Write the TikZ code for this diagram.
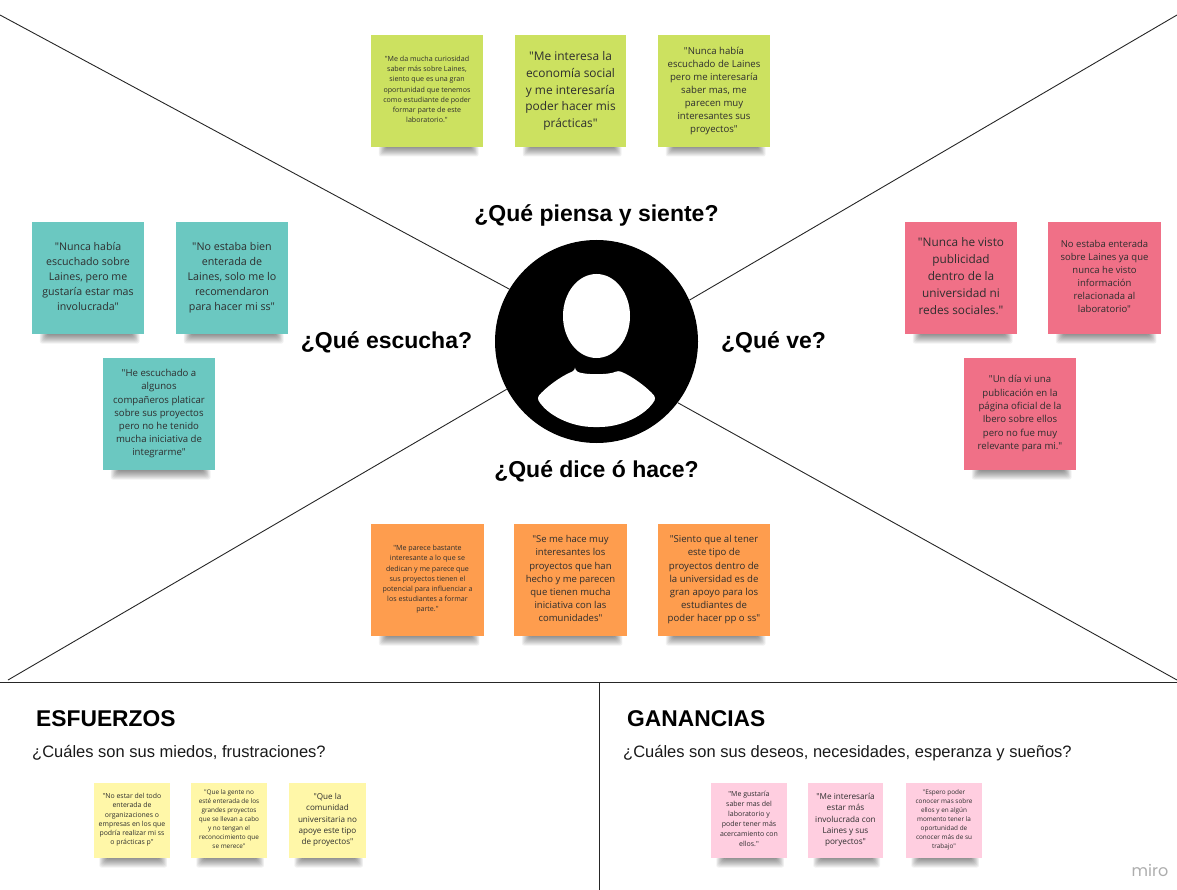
\documentclass[tikz,border=0pt]{standalone}
\usepackage{fontspec}
\usetikzlibrary{shapes.geometric}
\newfontfamily\notefont{Open Sans}
\newfontfamily\hdfont{Liberation Sans}
\newfontfamily\mirofont{Poppins}
\definecolor{cLime}{HTML}{CCE160}
\definecolor{cOrange}{HTML}{FE9D4E}
\definecolor{cTeal}{HTML}{6BC8C1}
\definecolor{cRed}{HTML}{F07087}
\definecolor{cYellow}{HTML}{FFF7A8}
\definecolor{cPink}{HTML}{FFCEE0}
\definecolor{cInk}{HTML}{2E2E2E}
\tikzset{
  x=1pt,y=-1pt,
  rule/.style={draw=black!85,line width=0.9pt},
  header/.style={font=\hdfont\bfseries\fontsize{23}{27}\selectfont,text=black,inner sep=0pt},
  title/.style={font=\hdfont\bfseries\fontsize{22.8}{26}\selectfont,text=black,inner sep=0pt,anchor=west},
  subtitle/.style={font=\hdfont\fontsize{16.5}{20}\selectfont,text=black!90,inner sep=0pt,anchor=west},
}
% name, x0, y0, x1, y1, colour, size, leading, text
\newcommand{\sticky}[9]{%
  \foreach \i in {0,1,...,9}{
    \fill[black,opacity=0.055,rounded corners=2pt]
      ({#2+0.07*(#4-#2)+\i*0.9},#5-1) rectangle ({#4-0.04*(#4-#2)-\i*0.9},{#5+9.5-\i*1.0});
  }
  \node[fill=#6,inner sep=0pt,minimum width=#4-#2,minimum height=#5-#3,text=cInk,align=center,
        font=\notefont\fontsize{#7}{#8}\selectfont] (#1) at ({(#2+#4)/2},{(#3+#5)/2}) {#9\rule[-3pt]{0pt}{0pt}};
}
\begin{document}
\begin{tikzpicture}
\useasboundingbox (0,0) rectangle (1177,890);
\node[circle,fill=black,inner sep=0pt,minimum size=203pt] (avatar) at (596.5,341.5) {};
\node[ellipse,fill=white,inner sep=0pt,minimum width=67pt,minimum height=84pt] (head) at (596.5,316) {};
\fill[white,rounded corners=3pt] (575,370.5) .. controls (584,375) and (609,375) .. (618,370.5)
  .. controls (632,376) and (648,388) .. (656,398)
  .. controls (646,415) and (622,427) .. (596.5,427)
  .. controls (571,427) and (547,415) .. (537,398)
  .. controls (545,388) and (561,376) .. cycle;
\coordinate (tl) at (0,15);
\coordinate (tr) at (1177,15);
\coordinate (bl) at (8,680);
\coordinate (br) at (1177,680);
\coordinate (hl) at (0,682);
\coordinate (hr) at (1177,682);
\coordinate (vb) at (599,890);
\coordinate (vt) at (599,682);
\draw[rule] (tl) -- (avatar.149);
\draw[rule] (tr) -- (avatar.24);
\draw[rule] (bl) -- (avatar.208);
\draw[rule] (br) -- (avatar.323);
\draw[rule] (hl) -- (hr);
\draw[rule] (vt) -- (vb);
\node[header] (h1) at (596.5,215) {¿Qué piensa y siente?};
\node[header] (h2) at (386.5,342) {¿Qué escucha?};
\node[header] (h3) at (773.5,342) {¿Qué ve?};
\node[header] (h4) at (596.5,471) {¿Qué dice ó hace?};
\node[title] (t1) at (36,719) {ESFUERZOS};
\node[title] (t2) at (627,719) {GANANCIAS};
\node[subtitle] (s1) at (32,753) {¿Cuáles son sus miedos, frustraciones?};
\node[subtitle] (s2) at (623,753) {¿Cuáles son sus deseos, necesidades, esperanza y sueños?};
\node[inner sep=0pt,text=black!32,font=\mirofont\fontsize{16}{18}\selectfont] (miro) at (1150,870) {miro};
% top
\sticky{g1}{371}{35}{483}{147}{cLime}{7.1}{10.2}{"Me da mucha curiosidad\\saber más sobre Laines,\\siento que es una gran\\oportunidad que tenemos\\como estudiante de poder\\formar parte de este\\laboratorio."}
\sticky{g2}{515}{35}{626}{147}{cLime}{11.9}{16.8}{"Me interesa la\\economía social\\y me interesaría\\poder hacer mis\\prácticas"}
\sticky{g3}{658}{35}{770}{147}{cLime}{9.6}{13}{"Nunca había\\escuchado de Laines\\pero me interesaría\\saber mas, me\\parecen muy\\interesantes sus\\proyectos"}
% left
\sticky{c1}{32}{222}{144}{334}{cTeal}{10.6}{15}{"Nunca había\\escuchado sobre\\Laines, pero me\\gustaría estar mas\\involucrada"}
\sticky{c2}{176}{222}{288}{334}{cTeal}{10.7}{15}{"No estaba bien\\enterada de\\Laines, solo me lo\\recomendaron\\para hacer mi ss"}
\sticky{c3}{103}{358}{215}{470}{cTeal}{9.6}{13.1}{"He escuchado a\\algunos\\compañeros platicar\\sobre sus proyectos\\pero no he tenido\\mucha iniciativa de\\integrarme"}
% right
\sticky{r1}{905}{222}{1017}{334}{cRed}{11.8}{17}{"Nunca he visto\\publicidad\\dentro de la\\universidad ni\\redes sociales."}
\sticky{r2}{1048}{222}{1161}{334}{cRed}{9.5}{13}{No estaba enterada\\sobre Laines ya que\\nunca he visto\\información\\relacionada al\\laboratorio"}
\sticky{r3}{964}{358}{1076}{470}{cRed}{9.6}{13.3}{"Un día vi una\\publicación en la\\página oficial de la\\Ibero sobre ellos\\pero no fue muy\\relevante para mi."}
% bottom
\sticky{o1}{371}{524}{484}{636}{cOrange}{7.1}{10.2}{"Me parece bastante\\interesante a lo que se\\dedican y me parece que\\sus proyectos tienen el\\potencial para influenciar a\\los estudiantes a formar\\parte."}
\sticky{o2}{514}{524}{627}{636}{cOrange}{9.5}{13.1}{"Se me hace muy\\interesantes los\\proyectos que han\\hecho y me parecen\\que tienen mucha\\iniciativa con las\\comunidades"}
\sticky{o3}{658}{524}{770}{636}{cOrange}{9.6}{13.1}{"Siento que al tener\\este tipo de\\proyectos dentro de\\la universidad es de\\gran apoyo para los\\estudiantes de\\poder hacer pp o ss"}
% esfuerzos
\sticky{y1}{94}{783}{170}{858}{cYellow}{6.9}{9.2}{"No estar del todo\\enterada de\\organizaciones o\\empresas en los que\\podría realizar mi ss\\o prácticas p"}
\sticky{y2}{191}{783}{267}{858}{cYellow}{6.4}{9}{"Que la gente no\\esté enterada de los\\grandes proyectos\\que se llevan a cabo\\y no tengan el\\reconocimiento que\\se merece"}
\sticky{y3}{289}{783}{366}{858}{cYellow}{8.1}{11.2}{"Que la\\comunidad\\universitaria no\\apoye este tipo\\de proyectos"}
% ganancias
\sticky{p1}{711}{783}{787}{858}{cPink}{7}{10.1}{"Me gustaría\\saber mas del\\laboratorio y\\poder tener más\\acercamiento con\\ellos."}
\sticky{p2}{808}{783}{883}{858}{cPink}{8.2}{11.4}{"Me interesaría\\estar más\\involucrada con\\Laines y sus\\poryectos"}
\sticky{p3}{906}{783}{982}{858}{cPink}{6.4}{9}{"Espero poder\\conocer mas sobre\\ellos y en algún\\momento tener la\\oportunidad de\\conocer más de su\\trabajo"}
\end{tikzpicture}
\end{document}
